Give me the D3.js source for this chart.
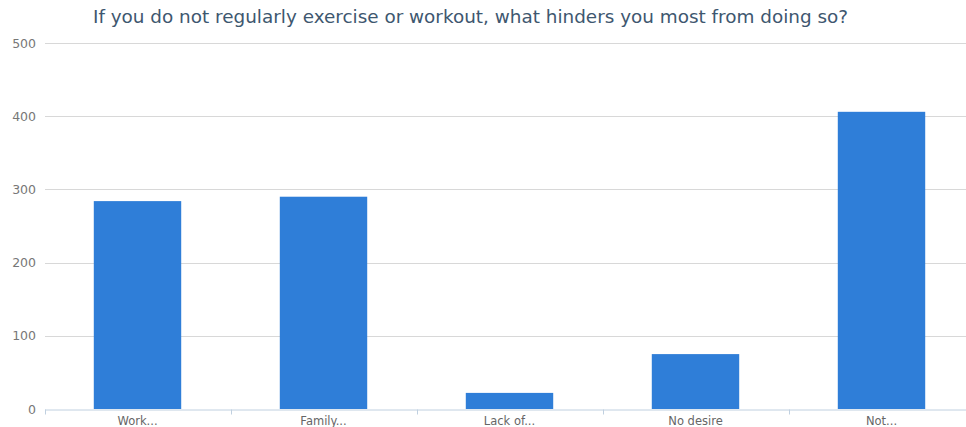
<!DOCTYPE html>
<html>
<head>
<meta charset="utf-8">
<script src="https://cdn.jsdelivr.net/npm/d3@7"></script>
<style>
  body { margin: 0; background: #fff; }
  svg { display: block; font-family: "DejaVu Sans", sans-serif; }
</style>
</head>
<body>
<div id="chart"></div>
<script>
// chart data
var categories = ["Work...", "Family...", "Lack of...", "No desire", "Not..."];
var counts = [284, 290, 22, 75, 406];
var yTicks = [0, 100, 200, 300, 400, 500];
var title = "If you do not regularly exercise or workout, what hinders you most from doing so?";

function init() {
    var w = 966;
    var h = 427;

    var svg = d3.select("#chart")
                .append("svg")
                .attr("width", w)
                .attr("height", h);

    // plot area runs a little past the right edge, as in the original
    var x = d3.scaleBand()
              .domain(categories)
              .range([44.5, 974.5])
              .paddingInner(0.53)
              .paddingOuter(0.265);

    var y = d3.scaleLinear()
              .domain([0, 500])
              .range([409, 43]);

    // gridlines
    svg.append("g")
       .selectAll("line")
       .data(yTicks.filter(d => d > 0))
       .enter()
       .append("line")
       .attr("x1", 45)
       .attr("x2", w)
       .attr("y1", d => Math.round(y(d)) + 0.5)
       .attr("y2", d => Math.round(y(d)) + 0.5)
       .attr("stroke", "#d8d8d8")
       .attr("stroke-width", 1);

    // y labels
    svg.append("g")
       .selectAll("text")
       .data(yTicks)
       .enter()
       .append("text")
       .attr("x", 36)
       .attr("y", d => y(d) + 4.5)
       .attr("text-anchor", "end")
       .attr("font-size", 12.5)
       .attr("fill", "#777")
       .text(d => d);

    // bars
    svg.append("g")
       .selectAll("rect")
       .data(counts)
       .enter()
       .append("rect")
       .attr("x", (d, i) => x(categories[i]))
       .attr("y", d => y(d))
       .attr("width", x.bandwidth())
       .attr("height", d => y(0) - y(d))
       .attr("fill", "#2f7ed8");

    // x axis
    var xAxis = d3.axisBottom(x).tickSize(0).tickPadding(7);
    var gx = svg.append("g")
                .attr("transform", "translate(0," + 409.5 + ")")
                .call(xAxis);
    gx.select(".domain").attr("stroke", "#c0d0e0");
    gx.selectAll("text")
      .attr("font-size", 11.5)
      .attr("fill", "#666")
      .attr("font-family", "DejaVu Sans, sans-serif");

    // category boundary ticks
    var step = x.step();
    var bounds = d3.range(categories.length + 1).map(i => 44.5 + i * step);
    gx.selectAll(".sep")
      .data(bounds)
      .enter()
      .append("line")
      .attr("class", "sep")
      .attr("x1", d => Math.round(d) + 0.5)
      .attr("x2", d => Math.round(d) + 0.5)
      .attr("y1", 0)
      .attr("y2", 5)
      .attr("stroke", "#c0d0e0");

    // title
    svg.append("text")
       .attr("x", 470.5)
       .attr("y", 23)
       .attr("text-anchor", "middle")
       .attr("font-size", 18.4)
       .attr("fill", "#3e576f")
       .text(title);
}

window.onload = init;
</script>
</body>
</html>
